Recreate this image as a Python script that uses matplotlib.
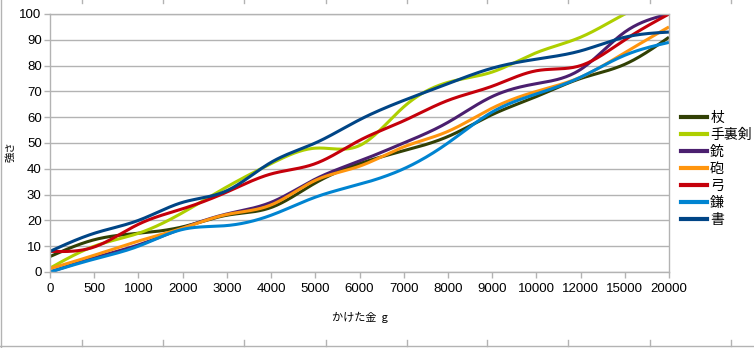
import numpy as np
import matplotlib.pyplot as plt
from matplotlib.lines import Line2D

plt.rcParams['font.family'] = ['Liberation Sans', 'Noto Sans CJK JP', 'DejaVu Sans']
JP = ['Noto Sans CJK JP', 'DejaVu Sans']

# spent money (category axis) and strength per weapon
cats = ['0', '500', '1000', '2000', '3000', '4000', '5000', '6000', '7000',
        '8000', '9000', '10000', '12000', '15000', '20000']
tsue = [6, 12.5, 15, 17.5, 22, 25, 34.5, 42, 47, 52.5, 61, 68, 75, 80.5, 91]
shuriken = [1.5, 10, 15, 23, 33, 42, 48, 49, 64, 73.5, 77.5, 85, 91, 100, 108]
juu = [0, 5.5, 10.5, 17, 22.5, 27, 36, 43, 50, 58, 68, 73, 78.5, 93, 100]
hou = [1.3, 6.5, 12, 17, 22.3, 26, 35.5, 41, 48.5, 54.5, 63.5, 70, 75.5, 85, 95]
yumi = [8, 9.7, 18.5, 24.5, 31, 38, 42, 51, 58.6, 66.5, 72, 78, 80, 90, 100]
kama = [0, 5, 10, 16.5, 18, 22, 29, 34, 40, 50, 62, 69, 75.5, 84, 89]
sho = [8, 15, 20, 27, 31.5, 42.5, 50, 59, 66.5, 73, 79, 82.5, 85.7, 91, 93]

names = ['杖', '手裏剣', '銃', '砲', '弓', '鎌', '書']
series = [tsue, shuriken, juu, hou, yumi, kama, sho]
colors = ['#314004', '#aecf00', '#4b1f6f', '#ff950e', '#c5000b', '#0084d1', '#004586']


def spline(y, n=30):
    # natural cubic spline through equally spaced points
    y = np.asarray(y, float)
    k = len(y)
    A = np.zeros((k, k))
    b = np.zeros(k)
    A[0, 0] = A[-1, -1] = 1
    for i in range(1, k - 1):
        A[i, i - 1:i + 2] = [1, 4, 1]
        b[i] = 6 * (y[i + 1] - 2 * y[i] + y[i - 1])
    M = np.linalg.solve(A, b)
    xs, ys = [], []
    t = np.linspace(0, 1, n, endpoint=False)
    for i in range(k - 1):
        s = (M[i] * (1 - t) ** 3 / 6 + M[i + 1] * t ** 3 / 6
             + (y[i] - M[i] / 6) * (1 - t) + (y[i + 1] - M[i + 1] / 6) * t)
        xs.extend(i + t)
        ys.extend(s)
    xs.append(k - 1)
    ys.append(y[-1])
    return np.array(xs), np.array(ys)


fig = plt.figure(figsize=(7.54, 3.48), dpi=100)
ax = fig.add_axes([50 / 754, 76 / 348, 619 / 754, 258 / 348])

x = np.arange(len(cats))
for name, vals, c in zip(names, series, colors):
    sx, sy = spline(vals)
    ax.plot(sx, sy, color=c, lw=2.2, label=name, solid_capstyle='butt')

ax.set_xlim(0, len(cats) - 1)
ax.set_ylim(0, 100)
ax.set_xticks(x)
ax.set_xticklabels(cats)
ax.set_yticks(np.arange(0, 101, 10))
ax.yaxis.grid(True, color='#b3b3b3', lw=1)
ax.set_axisbelow(True)
for sp in ax.spines.values():
    sp.set_color('#b3b3b3')
    sp.set_linewidth(1)
ax.tick_params(axis='both', colors='#b3b3b3', labelcolor='black', labelsize=9.5,
               length=4, width=1)
ax.tick_params(axis='x', pad=4)
ax.tick_params(axis='y', pad=2)

ax.set_xlabel('かけた金  g', fontsize=8, labelpad=12, family=JP)
fig.text(10 / 754, 1 - 152 / 348, '強さ', rotation=90, fontsize=7.5,
         ha='center', va='center', family=JP)

handles = [Line2D([], [], color=c, lw=3) for c in colors]
fig.legend(handles, names, loc='center left', bbox_to_anchor=(674 / 754, 1 - 169 / 348),
           frameon=False, prop={'family': JP, 'size': 10},
           handlelength=1.9, handletextpad=0.2, labelspacing=0.22, borderpad=0)

# spreadsheet cell borders around the chart
fig.add_artist(Line2D([0.5 / 754, 0.5 / 754], [0, 1], color='#b3b3b3', lw=1))
fig.add_artist(Line2D([0, 1], [2.5 / 348, 2.5 / 348], color='#b3b3b3', lw=1))
for cx in [82, 163, 244, 326, 407, 487, 568, 650, 731]:
    fig.add_artist(Line2D([cx / 754] * 2, [2.5 / 348, 8 / 348], color='#b3b3b3', lw=1))
    fig.add_artist(Line2D([cx / 754] * 2, [1, 1 - 3 / 348], color='#b3b3b3', lw=1))

fig.savefig('out.png', dpi=100)
